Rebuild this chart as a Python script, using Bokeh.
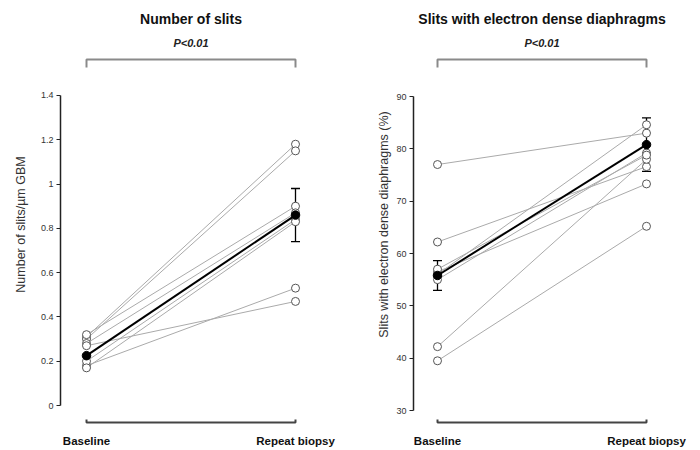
from bokeh.plotting import figure
from bokeh.layouts import row
from bokeh.models import Range1d, Whisker, TeeHead, ColumnDataSource, FixedTicker
from bokeh.embed import file_html
from bokeh.resources import INLINE
from bokeh.core.properties import value

# ---------------- data ----------------
categories = ["Baseline", "Repeat biopsy"]

slits_baseline = [0.31, 0.30, 0.32, 0.28, 0.27, 0.18, 0.20, 0.17]
slits_repeat = [1.18, 1.15, 0.90, 0.87, 0.47, 0.53, 0.84, 0.83]
slits_mean = [0.225, 0.86]
slits_err = [0.0, 0.12]
slits_ticks = [0, 0.2, 0.4, 0.6, 0.8, 1, 1.2, 1.4]
slits_tick_labels = ["0", "0.2", "0.4", "0.6", "0.8", "1", "1.2", "1.4"]

ed_baseline = [77.0, 62.2, 42.2, 39.5, 56.0, 56.5, 55.0, 57.0]
ed_repeat = [83.0, 76.6, 78.0, 65.2, 84.6, 73.3, 79.2, 78.8]
ed_mean = [55.8, 80.8]
ed_err = [2.85, 5.1]
ed_ticks = [30, 40, 50, 60, 70, 80, 90]
ed_tick_labels = ["30", "40", "50", "60", "70", "80", "90"]

titles = ["Number of slits", "Slits with electron dense diaphragms"]
y_labels = ["Number of slits/\u00b5m GBM", "Slits with electron dense diaphragms (%)"]
p_text = "P<0.01"

FONT = "Liberation Sans"
W, H = 350, 448


def make_panel(base, rep, mean, err, ticks, tick_labels, title, ylabel,
               border_left, x_start, x_end, y_bottom, y_top, label_standoff):
    p = figure(width=W, height=H, x_range=Range1d(x_start, x_end),
               y_range=Range1d(y_bottom, y_top), x_axis_location=None,
               min_border_left=border_left, min_border_right=0,
               min_border_top=0, min_border_bottom=0,
               output_backend="svg", toolbar_location=None)
    p.grid.visible = False
    p.outline_line_color = None
    p.background_fill_color = "white"

    def sy(py):  # picture px -> data y
        return y_top - py / H * (y_top - y_bottom)

    ax = p.yaxis[0]
    ax.bounds = (ticks[0], ticks[-1])
    ax.ticker = FixedTicker(ticks=ticks)
    ax.major_label_overrides = {t: l for t, l in zip(ticks, tick_labels)}
    ax.minor_tick_line_color = None
    ax.major_tick_in = 0
    ax.major_tick_out = 4
    ax.axis_line_width = 1.5
    ax.axis_line_color = "#222222"
    ax.major_tick_line_color = "#222222"
    ax.major_tick_line_width = 1.2
    ax.major_label_text_font = FONT
    ax.major_label_text_font_size = "9px"
    ax.major_label_text_color = "#333333"
    ax.major_label_standoff = 3
    ax.axis_label = ylabel
    ax.axis_label_text_font = FONT
    ax.axis_label_text_font_style = "normal"
    ax.axis_label_text_font_size = "12.5px"
    ax.axis_label_text_color = "#333333"
    ax.axis_label_standoff = label_standoff

    # subject lines
    xs = [[0, 1] for _ in base]
    ys = [[b, r] for b, r in zip(base, rep)]
    p.multi_line(xs=xs, ys=ys, line_color="#aaaaaa", line_width=1)
    # open circles
    p.scatter(x=[0] * len(base) + [1] * len(rep), y=base + rep, size=8,
              marker="circle", fill_color="white", line_color="#555555",
              line_width=1)
    # mean line
    p.line(x=[0, 1], y=mean, line_color="black", line_width=2)
    idx = [i for i, e in enumerate(err) if e > 0]
    src = ColumnDataSource(dict(x=idx,
                                upper=[mean[i] + err[i] for i in idx],
                                lower=[mean[i] - err[i] for i in idx]))
    p.add_layout(Whisker(source=src, base="x", upper="upper", lower="lower",
                         dimension="height", line_color="black", line_width=1.3,
                         upper_head=TeeHead(size=9, line_width=1.3, line_color="black"),
                         lower_head=TeeHead(size=9, line_width=1.3, line_color="black")))
    p.scatter(x=[0, 1], y=mean, size=8.5, marker="circle", fill_color="black",
              line_color="black")

    # top bracket
    yt, yt2 = sy(59), sy(67)
    p.multi_line(xs=[[0, 0, 1, 1]], ys=[[yt2, yt, yt, yt2]],
                 line_color="#8a8a8a", line_width=2)
    # bottom bracket
    yb, yb2 = sy(422), sy(419)
    p.multi_line(xs=[[0, 0, 1, 1]], ys=[[yb2, yb, yb, yb2]],
                 line_color="#444444", line_width=2)

    p.text(x=[0.5], y=[sy(18)], text=[title], text_align="center",
           text_baseline="middle", text_font=value(FONT),
           text_font_style="bold", text_font_size="14px", text_color="#111111")
    p.text(x=[0.5], y=[sy(42)], text=[p_text], text_align="center",
           text_baseline="middle", text_font=value(FONT),
           text_font_style="bold italic", text_font_size="11px",
           text_color="#222222")
    p.text(x=[0, 1], y=[sy(440)] * 2, text=categories, text_align="center",
           text_baseline="middle", text_font=value(FONT),
           text_font_style="bold", text_font_size="11.5px", text_color="#111111")
    return p


# left panel: axis at x=60, categories at 86 and 295 (209 px/unit); 0 at y=405, 1.4 at y=95
left = make_panel(slits_baseline, slits_repeat, slits_mean, slits_err,
                  slits_ticks, slits_tick_labels, titles[0], y_labels[0],
                  border_left=60, x_start=-(86 - 60) / 209,
                  x_end=-(86 - 60) / 209 + (W - 60) / 209,
                  y_bottom=(405 - H) / 221.43, y_top=405 / 221.43,
                  label_standoff=10)
# right panel: axis at x=413 (63 in panel), categories at 437 and 646; 30 at y=410, 90 at y=96
right = make_panel(ed_baseline, ed_repeat, ed_mean, ed_err,
                   ed_ticks, ed_tick_labels, titles[1], y_labels[1],
                   border_left=63, x_start=-(437 - 413) / 209,
                   x_end=-(437 - 413) / 209 + (W - 63) / 209,
                   y_bottom=30 - (H - 410) / 5.2333,
                   y_top=30 + 410 / 5.2333,
                   label_standoff=2)

layout = row(left, right)
open("out.html", "w").write(file_html(layout, INLINE))
